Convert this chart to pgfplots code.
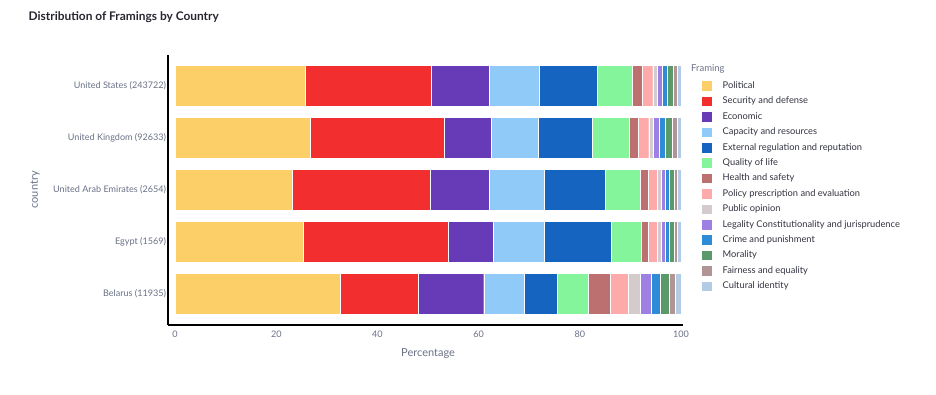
\documentclass[border=0pt]{standalone}
\usepackage{pgfplots}
\pgfplotsset{compat=1.18}
\usepackage{fontspec}
\setmainfont{Lato}
\definecolor{cPol}{HTML}{FDCF69}
\definecolor{cSec}{HTML}{F22E2E}
\definecolor{cEco}{HTML}{673AB7}
\definecolor{cCap}{HTML}{90CAF9}
\definecolor{cExt}{HTML}{1565C0}
\definecolor{cQol}{HTML}{84F59A}
\definecolor{cHea}{HTML}{BC7070}
\definecolor{cPolicy}{HTML}{FFAAAA}
\definecolor{cPub}{HTML}{D4CCCC}
\definecolor{cLeg}{HTML}{9E7FE3}
\definecolor{cCri}{HTML}{2E8BD6}
\definecolor{cMor}{HTML}{5A9A6A}
\definecolor{cFai}{HTML}{B19494}
\definecolor{cCul}{HTML}{B2CCE5}
\definecolor{tickgrey}{HTML}{6A7186}
\definecolor{titlecol}{HTML}{262730}
\definecolor{legtext}{HTML}{31333F}
\begin{document}
\begin{tikzpicture}[x=1pt,y=1pt]
\path[use as bounding box] (0pt,0pt) rectangle (936pt,-395pt);
\begin{axis}[
  at={(168pt,-325pt)}, anchor=south west,
  scale only axis, width=515.1pt, height=270.4pt,
  xbar stacked, bar width=41.6pt,
  xmin=-1.4, xmax=100.4, ymin=-0.6, ymax=4.6,
  ytick={0,1,2,3,4},
  yticklabels={Belarus (11935),Egypt (1569),United Arab Emirates (2654),United Kingdom (92633),United States (243722)},
  xtick={0,20,40,60,80,100},
  axis x line*=bottom, axis y line*=left,
  axis line style={line width=1.5pt, black, -},
  major tick length=0pt, tick style={draw=none},
  tick label style={font=\fontsize{9.05}{10.5}\selectfont, text=tickgrey},
  xticklabel style={yshift=-2.5pt},
  yticklabel style={xshift=1.5pt},
  /pgf/number format/assume math mode=true,
  xlabel={Percentage}, ylabel={country},
  label style={font=\fontsize{11}{12}\selectfont, text=tickgrey},
  xlabel style={at={(axis description cs:0.505,-0.107)}, anchor=center},
  ylabel style={at={(axis description cs:-0.258,0.5)}, anchor=center},
  every axis plot/.append style={draw=white, line width=0.4pt},
  legend image code/.code={\fill[#1,draw=none] (0pt,-4.75pt) rectangle (9.5pt,4.75pt);},
  legend cell align=left,
  legend style={draw=none, fill=none, inner sep=0pt, anchor=north west,
    at={(axis description cs:1.0367,0.9125)},
    font=\fontsize{9.3}{10.5}\selectfont, text=legtext,
    nodes={text height=7pt, text depth=2.2pt, inner ysep=3.1pt, inner xsep=0pt},
    /tikz/every odd column/.append style={column sep=11pt}},
]
\addplot[fill=cPol] coordinates {(32.7,0) (25.4,1) (23.2,2) (26.8,3) (25.7,4)};
\addplot[fill=cSec] coordinates {(15.4,0) (28.5,1) (27.2,2) (26.3,3) (25.0,4)};
\addplot[fill=cEco] coordinates {(12.9,0) (9.0,1) (11.7,2) (9.3,3) (11.4,4)};
\addplot[fill=cCap] coordinates {(7.9,0) (10.0,1) (10.8,2) (9.4,3) (9.8,4)};
\addplot[fill=cExt] coordinates {(6.6,0) (13.3,1) (12.1,2) (10.7,3) (11.6,4)};
\addplot[fill=cQol] coordinates {(6.1,0) (5.9,1) (7.0,2) (7.3,3) (6.9,4)};
\addplot[fill=cHea] coordinates {(4.4,0) (1.4,1) (1.5,2) (1.8,3) (2.0,4)};
\addplot[fill=cPolicy] coordinates {(3.6,0) (1.8,1) (1.8,2) (2.0,3) (2.0,4)};
\addplot[fill=cPub] coordinates {(2.4,0) (0.7,1) (0.7,2) (0.8,3) (0.8,4)};
\addplot[fill=cLeg] coordinates {(2.1,0) (0.9,1) (0.9,2) (1.3,3) (1.1,4)};
\addplot[fill=cCri] coordinates {(1.7,0) (0.7,1) (0.7,2) (1.1,3) (0.9,4)};
\addplot[fill=cMor] coordinates {(1.8,0) (1.0,1) (1.0,2) (1.4,3) (1.2,4)};
\addplot[fill=cFai] coordinates {(1.3,0) (0.7,1) (0.7,2) (1.1,3) (0.9,4)};
\addplot[fill=cCul] coordinates {(1.1,0) (0.7,1) (0.7,2) (0.7,3) (0.7,4)};
\legend{Political,Security and defense,Economic,Capacity and resources,External regulation and reputation,Quality of life,Health and safety,Policy prescription and evaluation,Public opinion,Legality Constitutionality and jurisprudence,Crime and punishment,Morality,Fairness and equality,Cultural identity}
\end{axis}
\node[anchor=base west, inner sep=0pt, font=\bfseries\fontsize{11.9}{13.5}\selectfont, text=titlecol] at (28.5pt,-20.5pt) {Distribution of Framings by Country};
\node[anchor=west, font=\fontsize{9.5}{10.5}\selectfont, text=tickgrey, inner sep=0pt] at (691pt,-69pt) {Framing};
\end{tikzpicture}
\end{document}
